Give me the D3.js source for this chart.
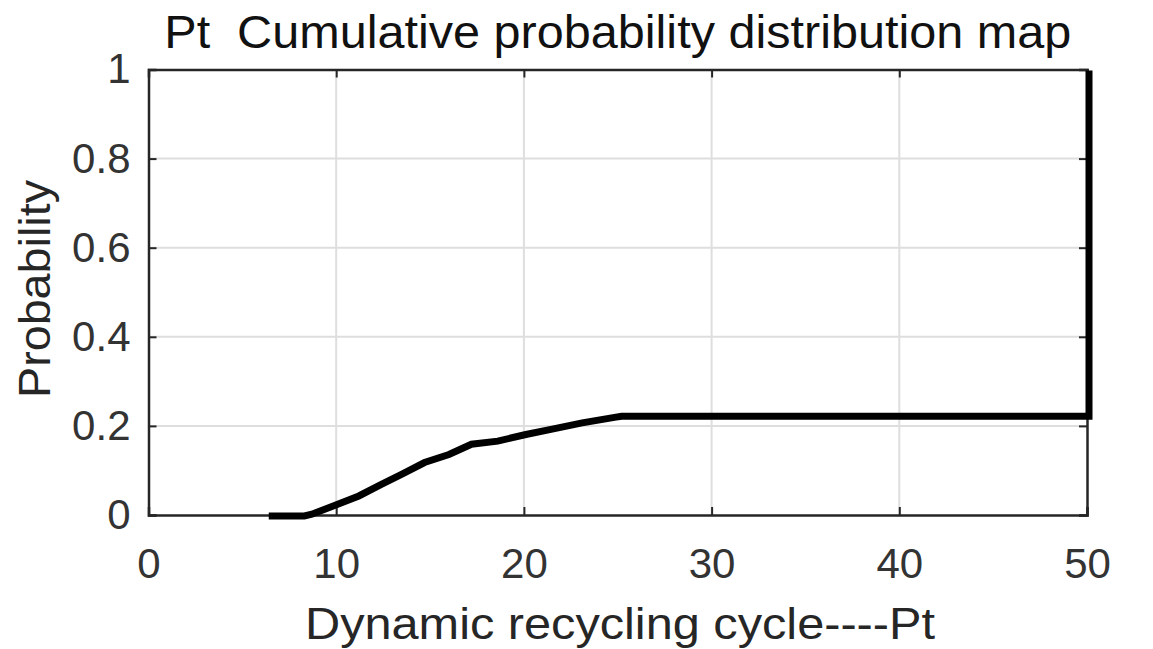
<!DOCTYPE html>
<html>
<head>
<meta charset="utf-8">
<script src="https://cdn.jsdelivr.net/npm/d3@7"></script>
<style>
  html, body { margin: 0; padding: 0; background: #fff; }
  svg { display: block; font-family: "Liberation Sans", Arial, sans-serif; }
  .grid line { stroke: #dedede; stroke-width: 2; }
  .axis path, .axis line { stroke: #262626; }
  .axis text { fill: #333; font-size: 42px; }
</style>
</head>
<body>
<svg id="chart" width="1153" height="649"></svg>
<script>
(function () {
  "use strict";

  const cycleX = [6.3, 8.2, 8.6, 9.7, 11.1, 12.3, 13.4, 14.6, 15.9, 17.1, 18.5, 20.0, 21.4, 23.0, 24.8, 25.1, 50, 50];
  const prob   = [0, 0, 0.004, 0.022, 0.045, 0.071, 0.094, 0.12, 0.138, 0.161, 0.168, 0.183, 0.195, 0.209, 0.222, 0.224, 0.224, 1];
  const xTicks = [0, 10, 20, 30, 40, 50];
  const yTicks = [0, 0.2, 0.4, 0.6, 0.8, 1];

  const TITLE = "Pt  Cumulative probability distribution map";
  const XLABEL = "Dynamic recycling cycle----Pt";
  const YLABEL = "Probability";
  const INK = "#262626";

  const svg = d3.select("#chart");
  const m = { l: 148.5, r: 1087, t: 69.5, b: 515 };

  const x = d3.scaleLinear().domain([0, 50]).range([m.l, m.r]);
  const y = d3.scaleLinear().domain([0, 1]).range([m.b, m.t]);

  // grid
  const grid = svg.append("g").attr("class", "grid");
  grid.selectAll("line.v").data(xTicks.slice(1, -1)).enter().append("line").attr("class", "v")
    .attr("x1", (d) => x(d)).attr("x2", (d) => x(d)).attr("y1", m.t).attr("y2", m.b);
  grid.selectAll("line.h").data(yTicks.slice(1, -1)).enter().append("line").attr("class", "h")
    .attr("x1", m.l).attr("x2", m.r).attr("y1", (d) => y(d)).attr("y2", (d) => y(d));

  // axes, ticks pointing inward
  const tk = 8;
  svg.append("g").attr("class", "axis").attr("transform", `translate(0,${m.b})`)
    .call(d3.axisBottom(x).tickValues(xTicks).tickSize(-tk).tickFormat(d3.format("d")))
    .call((g) => g.selectAll("text").attr("dy", "0.71em").attr("y", 33));
  svg.append("g").attr("class", "axis").attr("transform", `translate(${m.l},0)`)
    .call(d3.axisLeft(y).tickValues(yTicks).tickSize(-tk).tickPadding(18).tickFormat((v) => String(+v.toFixed(1))));
  svg.append("g").attr("class", "axis").attr("transform", `translate(0,${m.t})`)
    .call(d3.axisTop(x).tickValues(xTicks).tickSize(-tk).tickFormat(""));
  svg.append("g").attr("class", "axis").attr("transform", `translate(${m.r},0)`)
    .call(d3.axisRight(y).tickValues(yTicks).tickSize(-tk).tickFormat(""));
  svg.selectAll(".axis path").attr("stroke-width", 2.5);
  svg.selectAll(".axis line").attr("stroke-width", 2);

  // the CDF curve
  const pts = cycleX.map((v, i) => [v, prob[i]]);
  const line = d3.line().x((d) => x(d[0])).y((d) => y(d[1]));
  svg.append("path").datum(pts)
    .attr("fill", "none").attr("stroke", "#000").attr("stroke-width", 7)
    .attr("stroke-linejoin", "miter").attr("stroke-linecap", "butt")
    .attr("transform", "translate(2,1)")
    .attr("d", line);

  // texts
  svg.append("text").attr("x", (m.l + m.r) / 2).attr("y", 48)
    .style("white-space", "pre")
    .attr("text-anchor", "middle").attr("font-size", 46).attr("fill", "#111")
    .attr("textLength", 907).attr("lengthAdjust", "spacingAndGlyphs").text(TITLE);
  svg.append("text").attr("x", 620).attr("y", 639)
    .attr("text-anchor", "middle").attr("font-size", 44).attr("fill", INK)
    .attr("textLength", 630).attr("lengthAdjust", "spacingAndGlyphs").text(XLABEL);
  svg.append("text").attr("transform", "translate(50,289) rotate(-90)")
    .attr("text-anchor", "middle").attr("font-size", 45).attr("fill", INK)
    .attr("textLength", 218).attr("lengthAdjust", "spacingAndGlyphs").text(YLABEL);
})();
</script>
</body>
</html>
